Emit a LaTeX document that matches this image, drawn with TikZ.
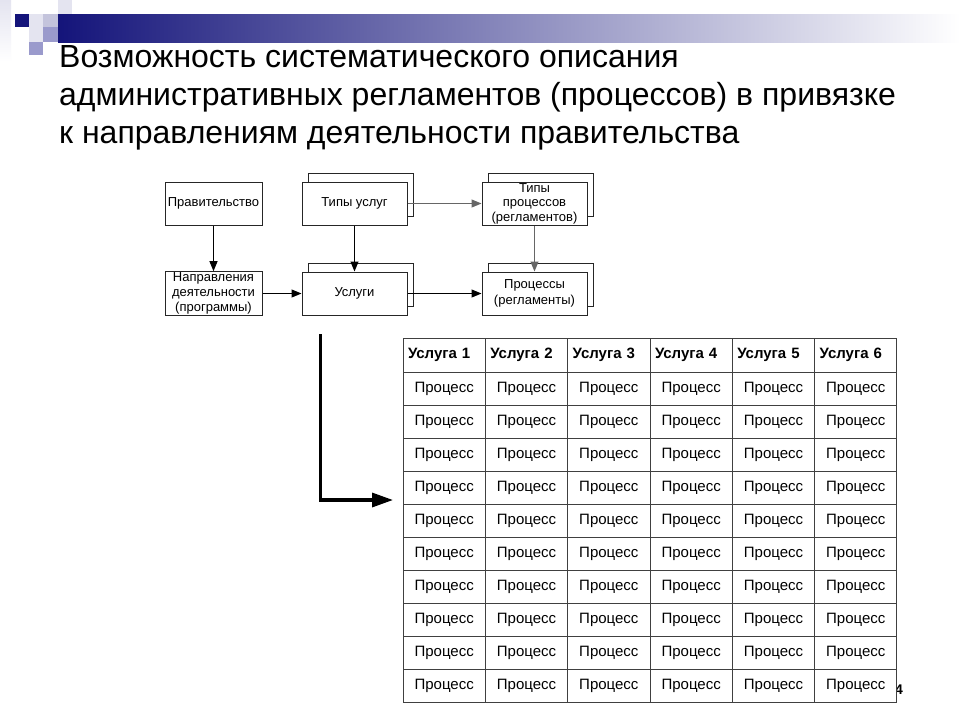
\documentclass[tikz,border=0pt]{standalone}
\usepackage{fontspec}
\setmainfont{Liberation Sans}
\usetikzlibrary{arrows.meta}
\definecolor{navy}{HTML}{14147A}
\definecolor{barmid}{HTML}{B4B4CC}
\definecolor{sqlight}{HTML}{E4E4F0}
\definecolor{sqmid}{HTML}{C4C4DC}
\definecolor{sqblue}{HTML}{9A9ACC}
\begin{document}
\begin{tikzpicture}[x=1pt,y=-1pt,
  box/.style={draw=black!85, fill=white, line width=1pt, minimum width=105pt, minimum height=43pt, inner sep=1pt, align=center, font=\fontsize{13}{14.5}\selectfont},
  sbox/.style={box, minimum width=97pt},
  flow/.style={line width=1pt, draw=black, -{Triangle[length=10pt,width=8pt]}},
  gflow/.style={flow, draw=black!60},
  hcell/.style={draw=black!75, fill=white, line width=1pt, minimum height=34pt, inner xsep=5pt, inner ysep=0pt, text width=72.33pt, align=left, font=\bfseries\fontsize{15}{17}\selectfont},
  pcell/.style={draw=black!75, fill=white, line width=1pt, minimum height=33pt, minimum width=82.33pt, inner sep=0pt, font=\fontsize{15}{17}\selectfont},
  titletext/.style={anchor=base west, inner sep=0pt, font=\fontsize{32}{38}\selectfont}
]
\useasboundingbox (0,0) rectangle (960,720);
\fill[white] (0,0) rectangle (960,720);
% decoration
\shade[top color=sqlight, bottom color=white] (0,0) rectangle (11,62);
\shade[left color=navy, middle color=barmid, right color=white] (58,14) rectangle (960,42);
\fill[sqlight] (58,0) rectangle (72,14);
\fill[navy] (15,14) rectangle (29,27);
\fill[sqlight] (29,14) rectangle (43,27);
\fill[sqmid] (43,14) rectangle (58,27);
\fill[sqlight] (29,27) rectangle (43,42);
\fill[sqblue] (43,27) rectangle (58,42);
\fill[sqblue] (29,42) rectangle (43,55);
% title
\node[titletext] (t1) at (59,67) {Возможность систематического описания};
\node[titletext] (t2) at (59,105) {административных регламентов (процессов) в привязке};
\node[titletext] (t3) at (59,143) {к направлениям деятельности правительства};
% flow diagram
\node[sbox] (gov) at (213.5,203.5) {Правительство};
\node[sbox, font=\fontsize{13}{15}\selectfont] (dir) at (213.5,293.5) {Направления\\деятельности\\(программы)};
\node[box] (tub) at (361,194.5) {};
\node[box] (tu) at (354.5,203.5) {Типы услуг};
\node[box] (ub) at (361,284.5) {};
\node[box] (u) at (354.5,293.5) {Услуги};
\node[box] (tpb) at (541,194.5) {};
\node[box] (tp) at (534.5,203.5) {Типы\\процессов\\(регламентов)};
\node[box] (pb) at (541,284.5) {};
\node[box, font=\fontsize{13}{16.5}\selectfont] (p) at (534.5,293.5) {Процессы\\(регламенты)};
\draw[flow] (gov) -- (dir);
\draw[flow] (tu) -- (u);
\draw[gflow] (tp) -- (p);
\draw[gflow] (tu) -- (tp);
\draw[flow] (dir) -- (u);
\draw[flow] (u) -- (p);
% big arrow
\coordinate (Ls) at (320.5,334);
\coordinate (Le) at (393,500);
\draw[line width=3.3pt, -{Triangle[length=21pt,width=14pt]}] (Ls) |- (Le);
% page number, mostly hidden
\node[anchor=base east, inner sep=0pt, font=\bfseries\fontsize{14}{14}\selectfont] (pg) at (903,694) {4};
% table
\foreach \col in {1,...,6} {
  \node[hcell] (h\col) at ({403+82.33*(\col-0.5)},355) {Услуга \col};
  \foreach \row in {1,...,10} {
    \node[pcell] (c\col-\row) at ({403+82.33*(\col-0.5)},{338+33*\row+17.5}) {Процесс};
  }
}
\end{tikzpicture}
\end{document}
